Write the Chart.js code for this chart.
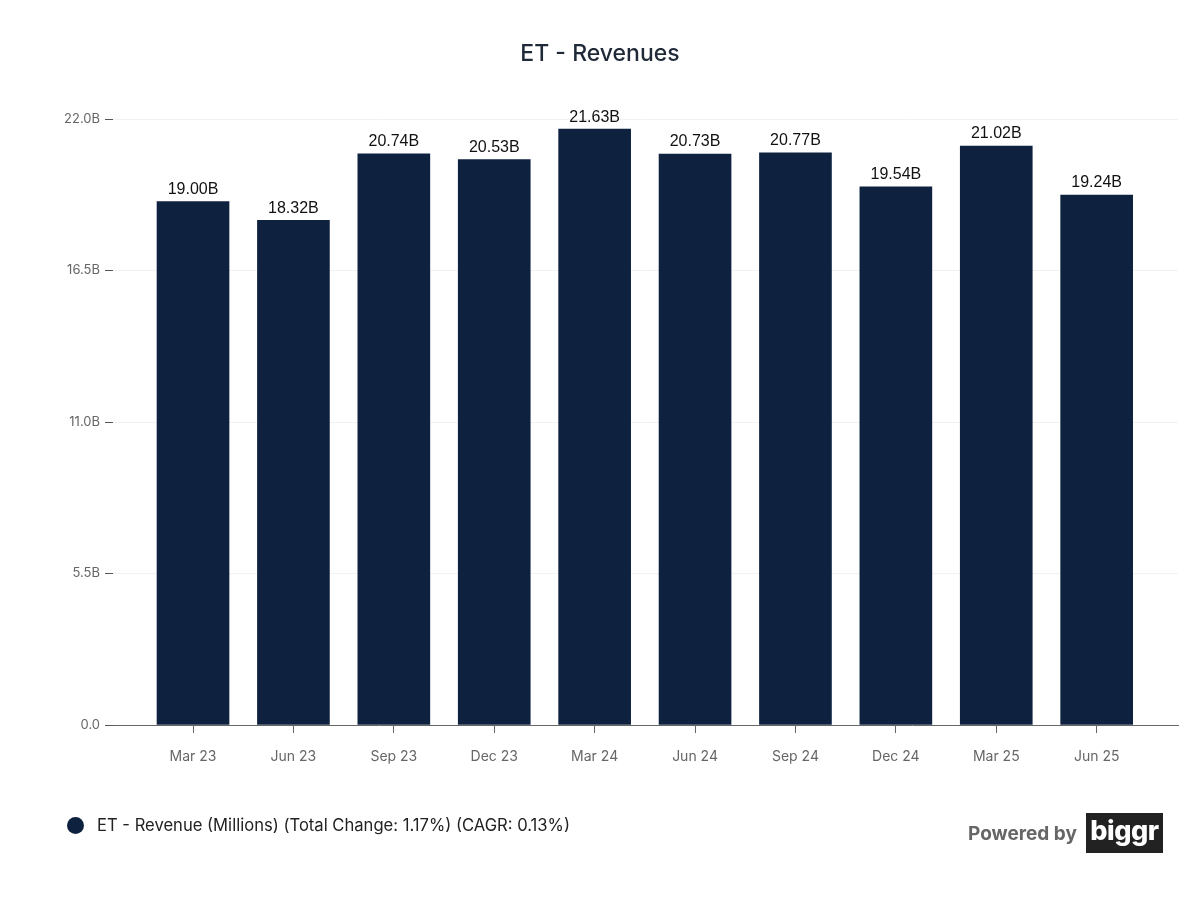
<!DOCTYPE html>
<html>
<head>
    <meta charset="UTF-8">
    <title>ET - Revenues</title>
    <script src="https://cdn.jsdelivr.net/npm/chart.js"></script>
    <style>
        body {
            margin: 0;
            background: #ffffff;
            font-family: Inter, "Noto Sans", sans-serif;
        }
        #wrap {
            position: relative;
            width: 1200px;
            height: 900px;
        }
        h1 {
            position: absolute;
            top: 39px;
            left: 0;
            width: 1200px;
            margin: 0;
            text-align: center;
            font-size: 23px;
            font-weight: 500;
            color: #1f2937;
        }
        #legend {
            position: absolute;
            left: 67px;
            top: 815px;
            font-size: 16.6px;
            color: #222;
            display: flex;
            align-items: center;
        }
        #legend .dot {
            width: 17px;
            height: 17px;
            border-radius: 50%;
            background: #0e2240;
            margin-right: 13px;
        }
        #powered {
            position: absolute;
            left: 968px;
            top: 813px;
            display: flex;
            align-items: center;
        }
        #powered span {
            font-size: 19px;
            font-weight: 700;
            color: #666;
            margin-right: 9px;
        }
        #powered .logo {
            background: #222;
            color: #fff;
            font-weight: 800;
            font-size: 27px;
            width: 77px;
            height: 40px;
            line-height: 36px;
            text-align: center;
            letter-spacing: -0.5px;
        }
        canvas { position: absolute; left: 0; top: 0; }
    </style>
</head>
<body>
<div id="wrap">
    <canvas id="grafico" width="1200" height="900"></canvas>
    <h1>ET - Revenues</h1>
    <div id="legend"><div class="dot"></div>ET - Revenue (Millions) (Total Change: 1.17%) (CAGR: 0.13%)</div>
    <div id="powered"><span>Powered by</span><div class="logo">biggr</div></div>
</div>

<script>
    // dati in milioni
    const trimestri = ['Mar 23', 'Jun 23', 'Sep 23', 'Dec 23', 'Mar 24', 'Jun 24', 'Sep 24', 'Dec 24', 'Mar 25', 'Jun 25'];
    const ricavi = [19000, 18320, 20740, 20530, 21630, 20730, 20770, 19540, 21020, 19240];
    const tickY = [0, 5500, 11000, 16500, 22000];

    const colore = '#0e2240';

    const etichette = {
        id: 'etichette',
        afterDatasetsDraw(chart) {
            const ctx = chart.ctx;
            const meta = chart.getDatasetMeta(0);
            ctx.save();
            ctx.font = '16px "Liberation Sans", Arial, sans-serif';
            ctx.fillStyle = '#111';
            ctx.textAlign = 'center';
            ctx.textBaseline = 'bottom';
            meta.data.forEach((bar, i) => {
                ctx.fillText((ricavi[i] / 1000).toFixed(2) + 'B', bar.x, bar.y - 4);
            });
            ctx.restore();
        }
    };

    const ctx = document.getElementById('grafico').getContext('2d');
    new Chart(ctx, {
        type: 'bar',
        data: {
            datasets: [{
                label: 'ET - Revenue (Millions)',
                data: ricavi.map((v, i) => ({ x: i, y: v })),
                backgroundColor: colore,
                barThickness: 72
            }]
        },
        options: {
            responsive: false,
            animation: false,
            layout: { padding: { top: 119, right: 22, bottom: 0, left: 0 } },
            plugins: {
                legend: { display: false },
                tooltip: { enabled: false }
            },
            scales: {
                x: {
                    type: 'linear',
                    offset: false,
                    min: -0.797,
                    max: 9.81,
                    afterBuildTicks(scale) {
                        scale.ticks = trimestri.map((t, i) => ({ value: i }));
                    },
                    afterFit(scale) { scale.height = 175; },
                    ticks: {
                        callback: (v) => trimestri[v],
                        color: '#666',
                        font: { size: 14, family: 'Inter' },
                        padding: 15,
                        maxRotation: 0,
                        autoSkip: false
                    },
                    grid: {
                        offset: false,
                        drawOnChartArea: false,
                        drawTicks: true,
                        tickLength: 8,
                        color: '#666'
                    },
                    border: { display: true, color: '#666', width: 1 }
                },
                y: {
                    min: 0,
                    max: 22000,
                    afterBuildTicks(scale) {
                        scale.ticks = tickY.map(v => ({ value: v }));
                    },
                    afterFit(scale) { scale.width = 113; },
                    ticks: {
                        callback: (v) => v === 0 ? '0.0' : (v / 1000).toFixed(1) + 'B',
                        color: '#666',
                        font: { size: 13, family: 'Inter' },
                        padding: 5
                    },
                    grid: {
                        color: '#f2f2f2',
                        tickColor: '#555',
                        tickLength: 8
                    },
                    border: { display: false }
                }
            }
        },
        plugins: [etichette]
    });
</script>
</body>
</html>
